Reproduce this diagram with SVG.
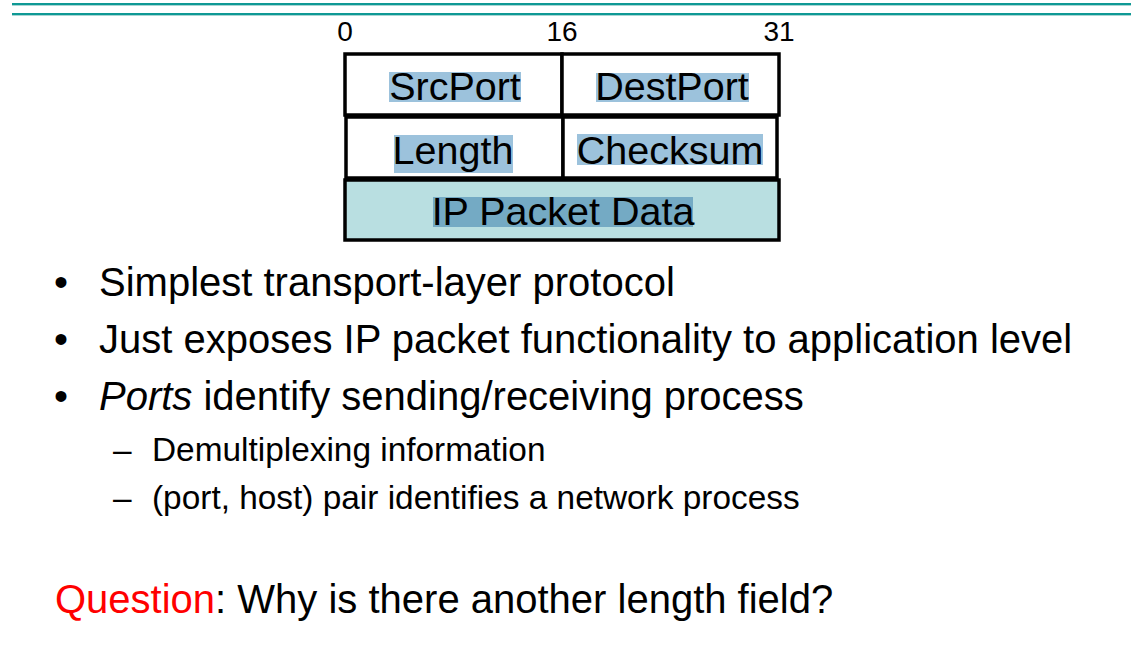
<svg xmlns="http://www.w3.org/2000/svg" width="1131" height="658" viewBox="0 0 1131 658">
  <style>
    text { font-family: "Liberation Sans", Arial, sans-serif; fill: #000; }
    .bit { font-size: 28px; text-anchor: middle; }
    .field { font-size: 39.5px; text-anchor: middle; }
    .cell { fill: #ffffff; stroke: #000; stroke-width: 3.5; }
    .data { fill: #b9dfe1; stroke: #000; stroke-width: 3.5; }
    .hl { fill: #9cc2dc; }
    .hl-dark { fill: #74aac4; }
    .bullet { font-size: 40px; }
    .sub { font-size: 33.4px; }
    .q { fill: #ff0000; }
  </style>

  <!-- title rules -->
  <rect x="12" y="3" width="1119" height="2" fill="#0f9995"/>
  <rect x="12" y="5" width="1119" height="1" fill="#a9d6d4"/>
  <rect x="12" y="13" width="1119" height="2" fill="#0f9995"/>
  <rect x="12" y="15" width="1119" height="1" fill="#a9d6d4"/>

  <!-- bit offsets -->
  <g id="bit-labels">
    <text class="bit" x="345" y="41">0</text>
    <text class="bit" x="562" y="41">16</text>
    <text class="bit" x="779" y="41">31</text>
  </g>

  <!-- UDP header fields -->
  <g id="srcport">
    <rect class="cell" x="345" y="54" width="217" height="61"/>
    <rect class="hl" x="389" y="72" width="132" height="30"/>
    <text class="field" x="455" y="100">SrcPort</text>
  </g>
  <g id="destport">
    <rect class="cell" x="562" y="54" width="217" height="61"/>
    <rect class="hl" x="596" y="73" width="153" height="29"/>
    <text class="field" x="672" y="100">DestPort</text>
  </g>
  <g id="length">
    <rect class="cell" x="346" y="117" width="217" height="61"/>
    <rect class="hl" x="394" y="135" width="119" height="38"/>
    <text class="field" x="453" y="164">Length</text>
  </g>
  <g id="checksum">
    <rect class="cell" x="563" y="117" width="214" height="61"/>
    <rect class="hl" x="577" y="134" width="186" height="31"/>
    <text class="field" x="670" y="164">Checksum</text>
  </g>
  <g id="ip-packet-data">
    <rect class="data" x="345" y="180" width="434" height="60"/>
    <rect class="hl-dark" x="433" y="197" width="260" height="30"/>
    <text class="field" x="563" y="225">IP Packet Data</text>
  </g>

  <!-- bullet list -->
  <g id="bullets">
    <text class="bullet" x="54" y="296">•</text>
    <text class="bullet" x="99" y="296">Simplest transport-layer protocol</text>
    <text class="bullet" x="54" y="353">•</text>
    <text class="bullet" x="99" y="353">Just exposes IP packet functionality to application level</text>
    <text class="bullet" x="54" y="410">•</text>
    <text class="bullet" x="99" y="410"><tspan font-style="italic">Ports</tspan> identify sending/receiving process</text>
    <text class="sub" x="113" y="461">–</text>
    <text class="sub" x="152" y="461">Demultiplexing information</text>
    <text class="sub" x="113" y="509">–</text>
    <text class="sub" x="152" y="509">(port, host) pair identifies a network process</text>
  </g>

  <g id="question">
    <text class="bullet" x="55" y="613"><tspan class="q">Question</tspan>: Why is there another length field?</text>
  </g>
</svg>
